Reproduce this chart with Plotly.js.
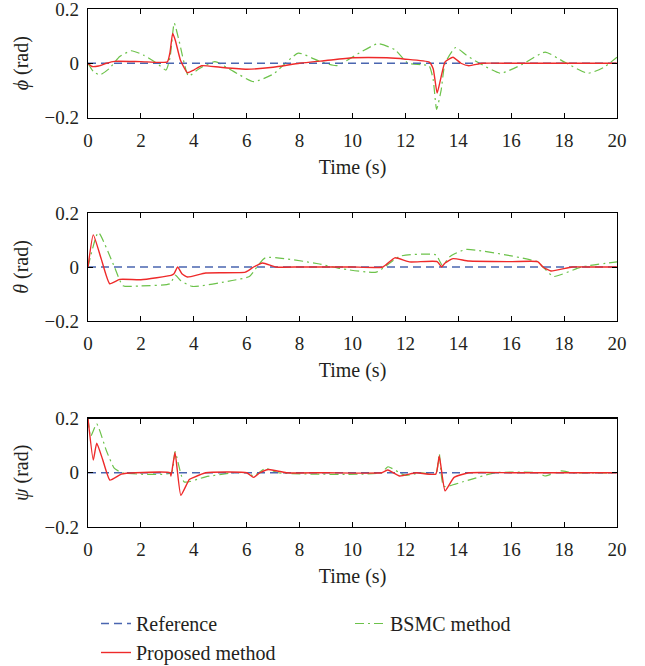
<!DOCTYPE html>
<html>
<head>
<meta charset="utf-8">
<script src="https://cdn.plot.ly/plotly-3.0.1.min.js"></script>
<style>html,body{margin:0;padding:0;background:#fff;}#chart{width:645px;height:666px;}</style>
</head>
<body>
<div id="chart"></div>
<script>
// ---- data ----
const refT = [0, 20];
const refV = [0, 0];

const phiPropT = [0,0.15,0.4,0.7,1.0,2.0,3.0,3.1,3.2,3.3,3.5,3.76,4.0,4.3,5.0,6.0,7.0,8.0,9.0,10.0,11.3,12.0,12.9,13.05,13.2,13.35,13.5,13.8,14.1,14.4,14.9,16,18,20];
const phiPropV = [0,-0.012,-0.01,0.0,0.007,0.006,0.005,0.04,0.11,0.085,0.01,-0.035,-0.025,-0.009,-0.015,-0.022,-0.015,0,0.01,0.02,0.02,0.015,0.004,-0.02,-0.11,-0.05,0.005,0.022,0.0,-0.009,0,0,0,0];

const phiBsmcT = [0,0.2,0.45,0.8,1.2,1.64,2.1,2.6,2.95,3.1,3.26,3.45,3.8,4.2,4.8,5.5,6.26,7.0,7.95,8.8,9.4,10.2,10.96,11.6,12.1,12.6,12.9,13.05,13.18,13.35,13.5,13.9,14.3,14.8,15.6,16.4,17.28,18.0,18.9,19.5,20];
const phiBsmcV = [0,-0.03,-0.043,-0.02,0.025,0.046,0.03,0.0,-0.025,0.02,0.148,0.08,-0.047,-0.02,0.006,-0.03,-0.068,-0.04,0.037,0.005,-0.009,0.035,0.072,0.05,0.0,-0.005,-0.01,-0.06,-0.17,-0.1,0.0,0.058,0.03,0.0,-0.037,-0.005,0.041,0.005,-0.037,-0.015,0.022];

const thePropT = [0,0.2,0.5,0.82,1.2,2.0,3.14,3.25,3.39,3.55,3.76,4.45,5.95,6.26,6.6,7.1,8,9,10,11.15,11.6,12.15,13.2,13.37,13.5,13.8,14.4,16,17.0,17.2,17.5,18.3,19,20];
const thePropV = [0,0.119,0.03,-0.062,-0.046,-0.047,-0.031,-0.025,0,-0.025,-0.037,-0.022,-0.019,0,0.015,0,0,0,0,0,0.034,0.019,0.02,0,0.015,0.031,0.022,0.02,0.02,0.0,-0.015,0,0,0];

const theBsmcT = [0,0.39,1.0,1.32,2.0,3.1,3.3,3.5,3.95,5.45,6.1,6.7,8.7,9.5,10.9,11.8,13.15,13.4,13.7,14.3,17.0,17.2,17.6,18.65,20];
const theBsmcV = [0,0.128,0,-0.069,-0.07,-0.062,-0.03,-0.05,-0.072,-0.05,-0.035,0.034,0.012,-0.005,-0.019,0.04,0.045,0.006,0.04,0.065,0.019,0.0,-0.035,0,0.019];

const psiPropT = [0,0.2,0.33,0.55,0.83,1.26,1.8,3.1,3.14,3.29,3.51,3.83,4.0,4.45,6.0,6.26,6.5,6.83,7.5,9,11.1,11.34,11.78,12.4,13.15,13.28,13.5,13.84,14.4,16,18,20];
const psiPropV = [0.2,0.047,0.109,0.05,-0.027,-0.005,0,0,-0.012,0.075,-0.083,-0.025,-0.017,0,0,-0.017,0,0.012,0,0,0,0.01,-0.012,0,-0.005,0.062,-0.067,-0.017,0,0,0,0];

const psiBsmcT = [0,0.1,0.33,0.7,1.0,1.3,3.15,3.29,3.64,4.45,5.5,6.0,6.26,6.7,7.2,11.1,11.34,12.0,12.6,13.15,13.28,13.45,14.15,15.4,17.0,17.28,17.9,18.3,20];
const psiBsmcV = [0.2,0.134,0.18,0.08,0.016,0,0,0.078,-0.034,-0.015,0,0,-0.012,0.016,0,0,0.022,-0.01,0,-0.005,0.07,-0.05,-0.034,0,0,-0.012,0.007,0,0];

const xTicks = [0,2,4,6,8,10,12,14,16,18,20];
const yTicks = [-0.2, 0, 0.2];
const yTickText = ['\u22120.2', '0', '0.2'];
const yTitles = ['<i>\u03d5</i> (rad)', '<i>\u03b8</i> (rad)', '<i>\u03c8</i> (rad)'];
const xTitle = 'Time (s)';
const names = ['Reference', 'Proposed method', 'BSMC method'];

// ---- styles ----
const blue = '#4a66b0', red = '#ee2a2a', green = '#6cc24a';
const FONT = 'Liberation Serif, Times New Roman, serif';
const TXT = '#231f20';

const sets = [
  [phiPropT, phiPropV, phiBsmcT, phiBsmcV],
  [thePropT, thePropV, theBsmcT, theBsmcV],
  [psiPropT, psiPropV, psiBsmcT, psiBsmcV]
];

const traces = [];
sets.forEach((s, i) => {
  const xa = i === 0 ? 'x' : 'x' + (i + 1);
  const ya = i === 0 ? 'y' : 'y' + (i + 1);
  traces.push({x: s[2], y: s[3], xaxis: xa, yaxis: ya, mode: 'lines', name: names[2],
    legend: 'legend2', showlegend: i === 0,
    line: {color: green, width: 1.2, dash: '9px,4px,2px,4px', shape: 'spline', smoothing: 0.5}});
  traces.push({x: refT, y: refV, xaxis: xa, yaxis: ya, mode: 'lines', name: names[0],
    legend: 'legend', legendrank: 1, showlegend: i === 0,
    line: {color: blue, width: 1.3, dash: '8px,5px'}});
  traces.push({x: s[0], y: s[1], xaxis: xa, yaxis: ya, mode: 'lines', name: names[1],
    legend: 'legend', legendrank: 2, showlegend: i === 0,
    line: {color: red, width: 1.4, shape: 'spline', smoothing: 0.45}});
});

const W = 645, H = 666;
const xDom = [88 / W, 617 / W];
const boxes = [[9, 117.5], [213, 321], [418.5, 527]];

const layout = {
  width: W, height: H,
  margin: {l: 0, r: 0, t: 0, b: 0, autoexpand: false},
  paper_bgcolor: '#fff', plot_bgcolor: '#fff',
  font: {family: FONT, size: 19, color: TXT},
  showlegend: true,
  legend: {x: 96 / W, y: 1 - 604 / H, xanchor: 'left', yanchor: 'top',
    font: {family: FONT, size: 20, color: TXT}, bgcolor: 'rgba(0,0,0,0)',
    traceorder: 'normal', tracegroupgap: 0},
  legend2: {x: 350 / W, y: 1 - 604 / H, xanchor: 'left', yanchor: 'top',
    font: {family: FONT, size: 20, color: TXT}, bgcolor: 'rgba(0,0,0,0)'}
};

boxes.forEach((b, i) => {
  const sfx = i === 0 ? '' : String(i + 1);
  const yd = [1 - b[1] / H, 1 - b[0] / H];
  layout['xaxis' + sfx] = {
    domain: xDom, anchor: 'y' + sfx, range: [0, 20],
    tickvals: xTicks, ticks: 'inside', ticklen: 5, tickcolor: '#000',
    showline: true, linecolor: '#000', linewidth: 1.2, mirror: 'ticks',
    showgrid: false, zeroline: false, ticklabelstandoff: 5, ticklabeloverflow: 'allow',
    tickfont: {family: FONT, size: 19, color: TXT},
    title: {text: xTitle, font: {family: FONT, size: 20, color: TXT}, standoff: 10}
  };
  layout['yaxis' + sfx] = {
    domain: yd, anchor: 'x' + sfx, range: [-0.2, 0.2],
    tickvals: yTicks, ticktext: yTickText, ticks: 'inside', ticklen: 5, tickcolor: '#000',
    showline: true, linecolor: '#000', linewidth: 1.2, mirror: 'ticks',
    showgrid: false, zeroline: false, ticklabelstandoff: 4, ticklabeloverflow: 'allow',
    tickfont: {family: FONT, size: 19, color: TXT},
    title: {text: yTitles[i], font: {family: FONT, size: 20, color: TXT}, standoff: 10}
  };
});

Plotly.newPlot('chart', traces, layout, {staticPlot: true, displayModeBar: false});
</script>
</body>
</html>
